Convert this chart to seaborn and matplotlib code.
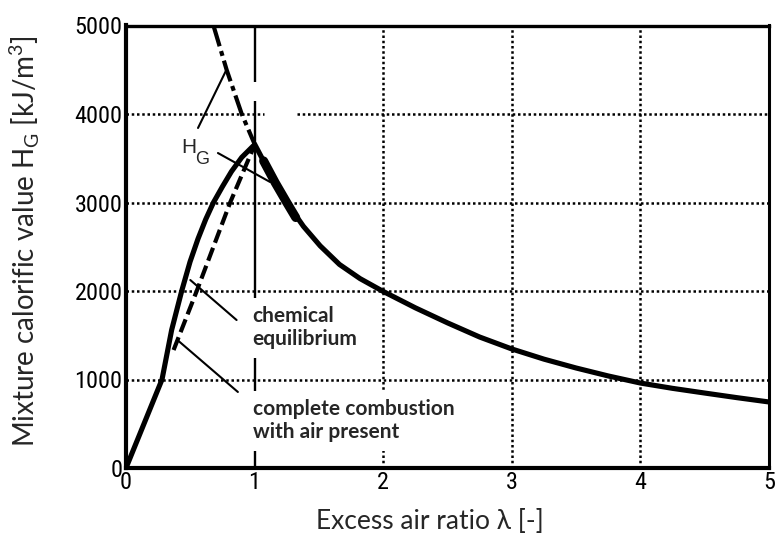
import numpy as np
import pandas as pd
import matplotlib
matplotlib.use("Agg")
import matplotlib.pyplot as plt
import matplotlib.font_manager as fm
import seaborn as sns

# ---------------- data ----------------
lam_equilibrium = [0.0, 0.28, 0.355, 0.433, 0.498, 0.56, 0.62, 0.68, 0.75, 0.82, 0.90, 0.99]
hg_equilibrium = [0, 1000, 1560, 2000, 2330, 2590, 2810, 3000, 3180, 3350, 3510, 3640]

lam_complete = [0.37, 0.55, 0.81, 1.0]
hg_complete = [1333, 2000, 3000, 3650]

lam_hg_rich = [0.68, 0.783, 0.90, 1.0]
hg_hg_rich = [5000, 4497, 4000, 3660]

lam_lean = [1.0, 1.08, 1.16, 1.25, 1.38, 1.51, 1.66, 1.82, 2.0, 2.25, 2.5, 2.75,
            3.0, 3.25, 3.5, 3.75, 4.0, 4.25, 4.5, 4.75, 5.0]
hg_lean = [3660, 3440, 3220, 3000, 2730, 2510, 2300, 2140, 1995, 1810, 1640, 1480,
           1345, 1230, 1130, 1040, 960, 900, 847, 795, 746]

lam_lean_overlay = [1.07, 1.16, 1.25, 1.32]
hg_lean_overlay = [3470, 3225, 3000, 2830]

x_ticks = [0, 1, 2, 3, 4, 5]
y_ticks = [0, 1000, 2000, 3000, 4000, 5000]

# ---------------- style ----------------
sns.set_style("white")
names = {f.name for f in fm.fontManager.ttflist}
if "Roboto Condensed" in names:
    tick_kw = dict(family="Roboto Condensed", fontsize=17.5)
elif "Liberation Sans Narrow" in names:
    tick_kw = dict(family="Liberation Sans Narrow", fontsize=17.5)
else:
    tick_kw = dict(family="DejaVu Sans", fontstretch="condensed", fontsize=16)
label_family = "Lato" if "Lato" in names else "Open Sans"
plt.rcParams["font.family"] = [label_family, "DejaVu Sans"]

fig = plt.figure(figsize=(7.77, 5.43), dpi=100)
W, H = 777, 543
x0, x1, ytop, ybot = 126, 769, 25.5, 468
ax = fig.add_axes([x0 / W, (H - ybot) / H, (x1 - x0) / W, (ybot - ytop) / H])

# grid (dotted)
dot = (0, (1.0, 1.1))
for yv in [1000, 2000, 3000]:
    ax.axhline(yv, color="black", lw=1.8, ls=dot, zorder=1)
ax.hlines(4000, 0, 1.07, color="black", lw=1.8, ls=dot, zorder=1)
ax.hlines(4000, 1.33, 5, color="black", lw=1.8, ls=dot, zorder=1)
for xv in [2, 3, 4]:
    ax.axvline(xv, color="black", lw=1.8, ls=dot, zorder=1)
# stoichiometric line
ax.vlines(1, 0, 4150, color="black", lw=1.7, zorder=1)
ax.vlines(1, 4360, 5000, color="black", lw=1.7, zorder=1)

df_eq = pd.DataFrame({"lam": lam_equilibrium, "hg": hg_equilibrium})
df_cc = pd.DataFrame({"lam": lam_complete, "hg": hg_complete})
df_rich = pd.DataFrame({"lam": lam_hg_rich, "hg": hg_hg_rich})
df_lean = pd.DataFrame({"lam": lam_lean, "hg": hg_lean})
df_ov = pd.DataFrame({"lam": lam_lean_overlay, "hg": hg_lean_overlay})

sns.lineplot(data=df_eq, x="lam", y="hg", ax=ax, color="black", lw=3.7,
             estimator=None, sort=False, zorder=3)
sns.lineplot(data=df_cc, x="lam", y="hg", ax=ax, color="black", lw=3.0,
             estimator=None, sort=False, zorder=3)
ax.lines[-1].set_dashes((3.3, 1.3))
sns.lineplot(data=df_rich, x="lam", y="hg", ax=ax, color="black", lw=3.0,
             estimator=None, sort=False, zorder=3)
ax.lines[-1].set_dashes((5.2, 1.2, 1.2, 1.2))
sns.lineplot(data=df_lean, x="lam", y="hg", ax=ax, color="black", lw=3.7,
             estimator=None, sort=False, zorder=3)
sns.lineplot(data=df_ov, x="lam", y="hg", ax=ax, color="black", lw=6.5,
             estimator=None, sort=False, zorder=3)
for ln in ax.lines:
    ln.set_solid_capstyle("round")
    ln.set_solid_joinstyle("round")

ax.set_xlim(0, 5)
ax.set_ylim(0, 5000)
ax.set_xticks(x_ticks)
ax.set_yticks(y_ticks)
ax.set_xticklabels([str(v) for v in x_ticks], **tick_kw)
ax.set_yticklabels([str(v) for v in y_ticks], **tick_kw)
ax.tick_params(axis="both", length=0, pad=2.5, colors="black")

for side, lw in {"left": 3.0, "bottom": 3.0, "top": 2.4, "right": 2.2}.items():
    ax.spines[side].set_visible(True)
    ax.spines[side].set_linewidth(lw)
    ax.spines[side].set_color("black")

ax.set_xlabel("Excess air ratio λ [-]", fontsize=19, family=[label_family, "DejaVu Sans"])
ax.set_ylabel("Mixture calorific value H$_\\mathregular{G}$ [kJ/m$^\\mathregular{3}$]",
              fontsize=20, family=[label_family, "DejaVu Sans"])
ax.xaxis.set_label_coords(0.473, -0.093)
ax.yaxis.set_label_coords(-0.131, 0.512)

# H_G label with leader lines
ax.text(0.43, 3560, "H", fontsize=15, family="Liberation Sans", va="baseline", ha="left", zorder=5)
ax.text(0.537, 3440, "G", fontsize=13, family="Liberation Sans", va="baseline", ha="left", zorder=5)
ax.plot([0.56, 0.78], [3842, 4497], color="black", lw=1.5, zorder=4)
ax.plot([0.715, 1.12], [3559, 3232], color="black", lw=1.5, zorder=4)

# curve labels with white boxes
box = dict(facecolor="white", edgecolor="none", pad=6)
ax.text(0.98, 1830, "chemical\nequilibrium", fontsize=15, fontweight="bold",
        va="top", ha="left", linespacing=1.2, bbox=box, zorder=6)
ax.text(0.99, 780, "complete combustion\nwith air present", fontsize=15, fontweight="bold",
        va="top", ha="left", linespacing=1.2, bbox=box, zorder=6)
ax.plot([0.50, 0.86], [2124, 1672], color="black", lw=1.5, zorder=4)
ax.plot([0.40, 0.87], [1446, 859], color="black", lw=1.5, zorder=4)

fig.savefig("out.png", dpi=100, facecolor="white")
